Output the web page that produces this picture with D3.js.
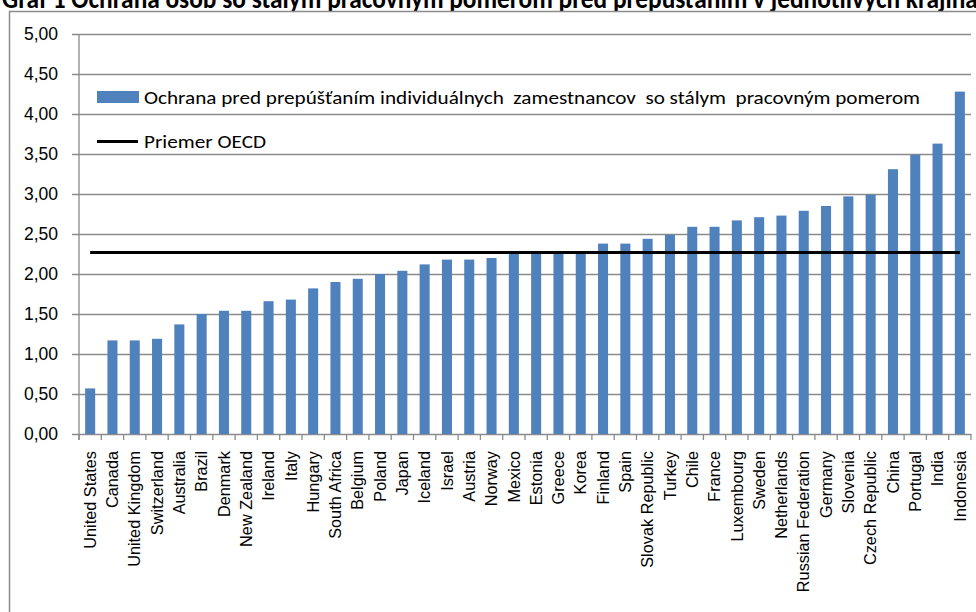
<!DOCTYPE html>
<html>
<head>
<meta charset="utf-8">
<script src="https://cdn.jsdelivr.net/npm/d3@7"></script>
<style>
  html, body { margin: 0; padding: 0; background: #fff; }
  svg { display: block; font-family: Carlito, Calibri, Lato, "Noto Sans", sans-serif; }
</style>
</head>
<body>
<svg id="chart" width="976" height="612"></svg>
<script>
// Countries, ordered from the weakest to the strongest protection
const countries = [
  "United States", "Canada", "United Kingdom", "Switzerland", "Australia",
  "Brazil", "Denmark", "New Zealand", "Ireland", "Italy",
  "Hungary", "South Africa", "Belgium", "Poland", "Japan",
  "Iceland", "Israel", "Austria", "Norway", "Mexico",
  "Estonia", "Greece", "Korea", "Finland", "Spain",
  "Slovak Republic", "Turkey", "Chile", "France", "Luxembourg",
  "Sweden", "Netherlands", "Russian Federation", "Germany", "Slovenia",
  "Czech Republic", "China", "Portugal", "India", "Indonesia"
];

// Protection of permanent workers against individual dismissal (index 0–6)
const protectionValues = [
  0.57, 1.17, 1.17, 1.19, 1.37,
  1.50, 1.54, 1.54, 1.66, 1.68,
  1.82, 1.90, 1.94, 2.00, 2.04,
  2.12, 2.18, 2.18, 2.20, 2.26,
  2.27, 2.27, 2.28, 2.38, 2.38,
  2.44, 2.49, 2.59, 2.59, 2.67,
  2.71, 2.73, 2.79, 2.85, 2.97,
  2.99, 3.31, 3.49, 3.63, 4.28
];

// OECD average
const oecdAverage = 2.27;

// Y axis ticks
const yTicks = [0, 0.5, 1, 1.5, 2, 2.5, 3, 3.5, 4, 4.5, 5];

const seriesLabel = "Ochrana pred prepúšťaním individuálnych  zamestnancov  so stálym  pracovným pomerom";
const averageLabel = "Priemer OECD";
const titleText = "Graf 1 Ochrana osôb so stálym pracovným pomerom pred prepúšťaním v jednotlivých krajinách";

const svg = d3.select("#chart");
const fmt = v => d3.format(".2f")(v).replace(".", ",");

const plotLeft = 79, plotRight = 971, plotTop = 34, plotBottom = 434;

const x = d3.scaleBand()
  .domain(countries)
  .range([plotLeft, plotRight])
  .paddingInner(0.55)
  .paddingOuter(0.275);

const y = d3.scaleLinear()
  .domain([0, 5])
  .range([plotBottom, plotTop]);

// Title, partly above the top edge of the page
svg.append("text")
  .attr("x", 2).attr("y", 8)
  .attr("font-size", 28)
  .attr("font-weight", "bold")
  .attr("fill", "#000")
  .attr("textLength", 1000)
  .attr("lengthAdjust", "spacingAndGlyphs")
  .text(titleText);

// Chart frame (continues past the right and bottom edges)
svg.append("rect")
  .attr("x", 9.5).attr("y", 11.5)
  .attr("width", 1100).attr("height", 800)
  .attr("fill", "#fff")
  .attr("stroke", "#8c8c8c")
  .attr("stroke-width", 1.5);

// Horizontal gridlines and y labels
const yAxis = d3.axisLeft(y)
  .tickValues(yTicks)
  .tickSize(-(plotRight - plotLeft) - 7)
  .tickPadding(14)
  .tickFormat(fmt);

const gy = svg.append("g")
  .attr("transform", `translate(${plotLeft - 7},0)`)
  .call(yAxis);
gy.select(".domain").remove();
gy.selectAll(".tick line")
  .attr("stroke", "#8a8a8a")
  .attr("stroke-width", 1.3);
gy.selectAll(".tick text")
  .attr("font-size", 17.5)
  .attr("fill", "#000");

// Vertical axis line
svg.append("line")
  .attr("x1", plotLeft).attr("x2", plotLeft)
  .attr("y1", y(5)).attr("y2", plotBottom + 6)
  .attr("stroke", "#8a8a8a")
  .attr("stroke-width", 1.3);

// Bars
svg.append("g")
  .selectAll("rect")
  .data(countries)
  .join("rect")
  .attr("x", d => x(d))
  .attr("width", x.bandwidth())
  .attr("y", (d, i) => y(protectionValues[i]))
  .attr("height", (d, i) => y(0) - y(protectionValues[i]))
  .attr("fill", "#4f81bd");

// Category boundary ticks on the x axis
const gap = (x.step() - x.bandwidth()) / 2;
const boundaries = countries.map(c => x(c) - gap).concat([plotRight]);
svg.append("g")
  .selectAll("line")
  .data(boundaries)
  .join("line")
  .attr("x1", d => d).attr("x2", d => d)
  .attr("y1", plotBottom).attr("y2", plotBottom + 6)
  .attr("stroke", "#8a8a8a")
  .attr("stroke-width", 1.3);

// Category labels, rotated
const xAxis = d3.axisBottom(x).tickSize(0).tickPadding(0);
const gx = svg.append("g")
  .attr("transform", `translate(0,${plotBottom})`)
  .call(xAxis);
gx.select(".domain").remove();
gx.selectAll(".tick text")
  .attr("font-size", 16.3)
  .attr("fill", "#000")
  .attr("text-anchor", "end")
  .attr("transform", "translate(0,17) rotate(-90)")
  .attr("x", 0)
  .attr("y", 0)
  .attr("dy", "0.35em");

// OECD average line
svg.append("line")
  .attr("x1", x(countries[0]) + x.bandwidth() / 2)
  .attr("x2", x(countries[countries.length - 1]) + x.bandwidth() / 2)
  .attr("y1", y(oecdAverage)).attr("y2", y(oecdAverage))
  .attr("stroke", "#000")
  .attr("stroke-width", 3);

// Legend
const legend = svg.append("g");
legend.append("rect")
  .attr("x", 97).attr("y", 91)
  .attr("width", 42).attr("height", 12)
  .attr("fill", "#4f81bd");
legend.append("text")
  .attr("x", 144).attr("y", 103.5)
  .attr("font-size", 18.5)
  .attr("textLength", 776)
  .attr("lengthAdjust", "spacingAndGlyphs")
  .style("white-space", "pre")
  .text(seriesLabel);
legend.append("line")
  .attr("x1", 97).attr("x2", 138)
  .attr("y1", 141.5).attr("y2", 141.5)
  .attr("stroke", "#000")
  .attr("stroke-width", 3);
legend.append("text")
  .attr("x", 144).attr("y", 148)
  .attr("font-size", 18.5)
  .attr("textLength", 122)
  .attr("lengthAdjust", "spacingAndGlyphs")
  .text(averageLabel);
</script>
</body>
</html>
